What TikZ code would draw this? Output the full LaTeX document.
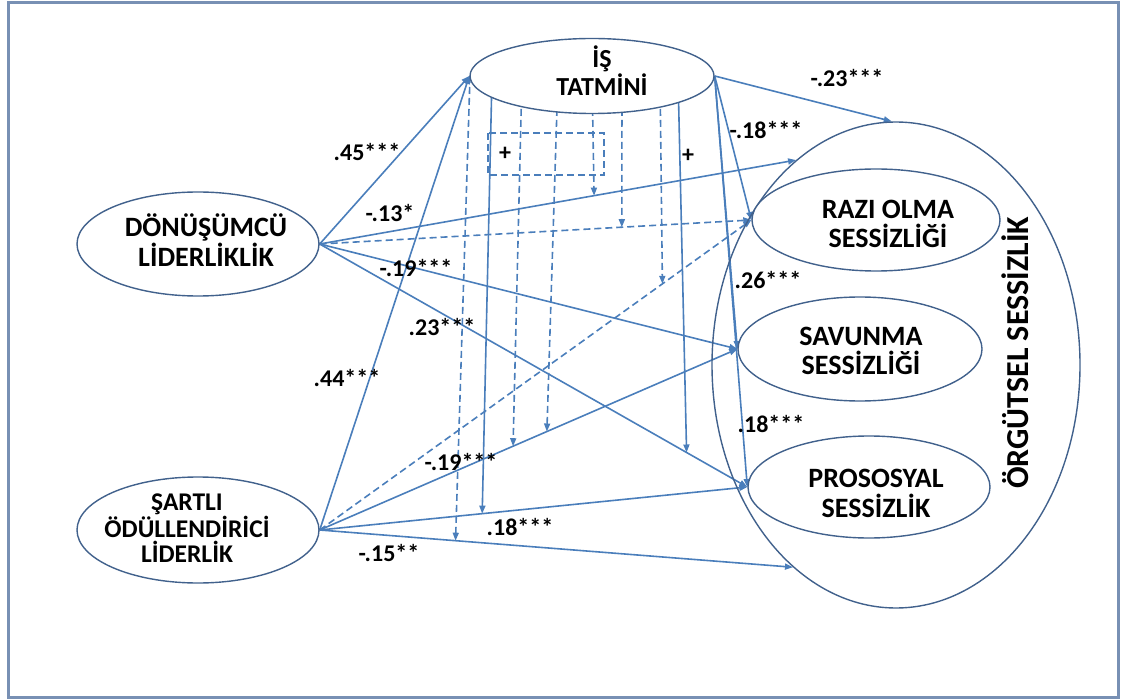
\documentclass[tikz,border=0pt]{standalone}
\usepackage{fontspec}
\setmainfont{Carlito}
\usetikzlibrary{shapes.geometric,arrows.meta}
\pgfdeclarelayer{background}
\pgfsetlayers{background,main}
\definecolor{linkblue}{HTML}{4A7EBB}
\definecolor{rimblue}{HTML}{41618C}
\definecolor{framegray}{HTML}{7890B4}
\begin{document}
\begin{tikzpicture}[x=1pt,y=-1pt,
  construct/.style={ellipse,draw=rimblue,line width=1.4pt,fill=white,inner sep=0pt},
  outerset/.style={ellipse,draw=rimblue,line width=1.4pt,inner sep=0pt},
  caption/.style={font=\bfseries\fontsize{28}{29}\selectfont,align=center,inner sep=0pt},
  coef/.style={font=\bfseries\fontsize{24}{28}\selectfont,inner sep=0pt},
  effect/.style={draw=linkblue,line width=1.6pt,-{Triangle[length=8pt,width=6pt]}},
  effectdash/.style={effect,dash pattern=on 7pt off 4pt},
]
\useasboundingbox (0,0) rectangle (1121,700);
% outer frame
\draw[framegray,line width=3pt] (8,2.5) rectangle (1118,697);

% constructs
\node[construct,minimum width=244pt,minimum height=75pt] (is) at (592,76) {};
\node[construct,minimum width=242pt,minimum height=104pt] (dl) at (198,244) {};
\node[construct,minimum width=242pt,minimum height=106pt] (sl) at (198,530) {};
\node[outerset,minimum width=368pt,minimum height=486pt] (os) at (896,365) {};
\node[construct,minimum width=248pt,minimum height=102pt] (rz) at (876,220) {};
\node[construct,minimum width=244pt,minimum height=104pt] (sv) at (860,349) {};
\node[construct,minimum width=242pt,minimum height=102pt] (pr) at (869,487) {};

% captions
\node[caption,font=\bfseries\fontsize{26}{28}\selectfont] (istxt) at (602,71) {İŞ\\TATMİNİ};
\node[caption,font=\bfseries\fontsize{28}{30}\selectfont] (dltxt) at (206,240) {DÖNÜŞÜMCÜ\\LİDERLİKLİK};
\node[caption,font=\bfseries\fontsize{25.5}{25}\selectfont] (sltxt) at (187,528) {ŞARTLI\\ÖDÜLLENDİRİCİ\\LİDERLİK};
\node[caption] (rztxt) at (888,224) {RAZI OLMA\\SESSİZLİĞİ};
\node[caption] (svtxt) at (861,351) {SAVUNMA\\SESSİZLİĞİ};
\node[caption,font=\bfseries\fontsize{28}{30}\selectfont] (prtxt) at (876,493) {PROSOSYAL\\SESSİZLİK};
\node[caption,font=\bfseries\fontsize{32}{36}\selectfont,rotate=90] (ostxt) at (1015,353) {ÖRGÜTSEL SESSİZLİK};

\begin{pgfonlayer}{background}
% direct and mediated paths
\draw[effect] (dl.east) -- (is.west);
\draw[effect] (sl.east) -- (is.west);
\draw[effect] (dl.east) -- (os.116.5);
\draw[effectdash] (dl.east) -- (rz.west);
\draw[effect] (dl.east) -- (sv.west);
\draw[effect] (dl.east) -- (pr.west);
\draw[effectdash] (sl.east) -- (rz.west);
\draw[effect] (sl.east) -- (sv.west);
\draw[effect] (sl.east) -- (pr.west);
\draw[effect] (sl.east) -- (os.243);
\draw[effect] (is.east) -- (os.91);
\draw[effect] (is.east) -- (rz.west);
\draw[effect] (is.east) -- (sv.west);
\draw[effect] (is.east) -- (pr.west);

% points where the moderating paths meet
\path (sl.east) -- (os.243) coordinate[pos=0.287] (m1);
\path (sl.east) -- (pr.west) coordinate[pos=0.38] (m2);
\path (sl.east) -- (sv.west) coordinate[pos=0.463] (m3);
\path (sl.east) -- (sv.west) coordinate[pos=0.544] (m4);
\path (dl.east) -- (os.116.5) coordinate[pos=0.576] (m5);
\path (dl.east) -- (rz.west) coordinate[pos=0.70] (m6);
\path (sl.east) -- (rz.west) coordinate[pos=0.794] (m7);
\path (dl.east) -- (pr.west) coordinate[pos=0.858] (m8);

% moderating paths leaving the job satisfaction construct
\coordinate (s1) at (470,76);
\coordinate (s2) at (492,76);
\coordinate (s3) at (522,76);
\coordinate (s4) at (558,76);
\coordinate (s5) at (592,76);
\coordinate (s6) at (622,76);
\coordinate (s7) at (660,76);
\coordinate (s8) at (678,76);
\draw[effectdash] (s1) -- (m1);
\draw[effect] (s2) -- (m2);
\draw[effectdash] (s3) -- (m3);
\draw[effectdash] (s4) -- (m4);
\draw[effectdash] (s5) -- (m5);
\draw[effectdash] (s6) -- (m6);
\draw[effectdash] (s7) -- (m7);
\draw[effect] (s8) -- (m8);

% dashed frame around the positive sign
\draw[linkblue,line width=1.6pt,dash pattern=on 7pt off 4pt] (488,133) rectangle (604,175);
\end{pgfonlayer}

% coefficients
\node[coef] (c1) at (367,152) {.45***};
\node[coef] (c2) at (390,213) {-.13*};
\node[coef] (c3) at (416,268) {-.19***};
\node[coef] (c4) at (442,327) {.23***};
\node[coef] (c5) at (347,378) {.44***};
\node[coef] (c6) at (461,462) {-.19***};
\node[coef] (c7) at (520,527) {.18***};
\node[coef] (c8) at (389,553) {-.15**};
\node[coef] (c9) at (847,78) {-.23***};
\node[coef] (c10) at (766,130) {-.18***};
\node[coef] (c11) at (768,280) {.26***};
\node[coef] (c12) at (771,424) {.18***};
\node[coef] (p1) at (505,154) {+};
\node[coef] (p2) at (688,156) {+};
\end{tikzpicture}
\end{document}
